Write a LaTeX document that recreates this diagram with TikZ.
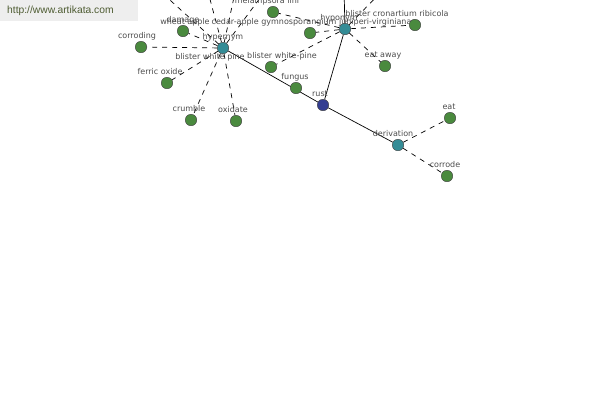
\documentclass[tikz,border=0pt]{standalone}
\usepackage{fontspec}
\setmainfont{DejaVu Sans}
\newfontfamily\wmfont{Liberation Sans}
\usetikzlibrary{backgrounds}
\definecolor{wordgreen}{RGB}{74,138,62}
\definecolor{hubteal}{RGB}{52,140,150}
\definecolor{headblue}{RGB}{52,62,145}
\definecolor{wmgray}{RGB}{238,238,238}
\definecolor{wmgreen}{RGB}{78,92,50}

\begin{document}
\begin{tikzpicture}
  [x=1pt, y=-1pt,
  word/.style={circle, minimum size=11.5pt, inner sep=0pt, draw=black!75, fill=wordgreen},
  hub/.style={word, fill=hubteal},
  head/.style={word, fill=headblue},
  lbl/.style={font=\fontsize{8}{9}\selectfont, text=black!70, inner sep=0pt, text height=6pt, text depth=1.5pt},
  link/.style={line width=0.7pt},
  rel/.style={link, dash pattern=on 5pt off 5pt},
  every label/.style={lbl}, label distance=0.5pt]
  \useasboundingbox (0,0) rectangle (600,400);
  \clip (0,0) rectangle (600,400);
  % watermark
  \node (wmbox) [fill=wmgray, minimum width=138pt, minimum height=21pt, inner sep=0pt, anchor=north west] at (0,0) {};
  \node (wm) [font=\wmfont\fontsize{10.3}{12}\selectfont, text=wmgreen, inner sep=0pt, anchor=west] at (7,11) {http://www.artikata.com};
  % centre and relation hubs
  \node (rust)  [head, label={[xshift=-3pt]above:rust}] at (323,105) {};
  \node (hyper) [hub, label={above:hypernym}] at (223,48) {};
  \node (hypo)  [hub, label={[xshift=-6pt]above:hyponym}] at (345,29) {};
  \node (deriv) [hub, label={[xshift=-5pt]above:derivation}] at (398,145) {};
  % words
  \node (corroding)  [word, label={[xshift=-4pt]above:corroding}] at (141,47) {};
  \node (damage)     [word, label={above:damage}] at (183,31) {};
  \node (ferric)     [word, label={[xshift=-7pt]above:ferric oxide}] at (167,83) {};
  \node (crumble)    [word, label={[xshift=-2pt]above:crumble}] at (191,120) {};
  \node (oxidate)    [word, label={[xshift=-3pt]above:oxidate}] at (236,121) {};
  \node (melampsora) [word, label={[xshift=-6pt]above:melampsora lini}] at (273,12) {};
  \node (gymno)      [word, label={[xshift=4pt]above:cedar-apple gymnosporangium juniperi-virginianae}] at (310,33) {};
  \node (whitepine)  [word, label={[xshift=11pt]above:blister white-pine}] at (271,67) {};
  \node (fungus)     [word, label={[xshift=-1pt]above:fungus}] at (296,88) {};
  \node (cronartium) [word, label={[xshift=-18pt]above:blister cronartium ribicola}] at (415,25) {};
  \node (eataway)    [word, label={[xshift=-2pt]above:eat away}] at (385,66) {};
  \node (eat)        [word, label={[xshift=-1pt]above:eat}] at (450,118) {};
  \node (corrode)    [word, label={[xshift=-2pt]above:corrode}] at (447,176) {};
  \node (wheatapple) [lbl] at (185,22) {wheat apple};
  \node (whitepine2) [lbl] at (210,57) {blister white pine};
  % ends of links that run off the top
  \coordinate (up1) at (150,-18);
  \coordinate (up2) at (207,-12);
  \coordinate (up3) at (236,-12);
  \coordinate (up4) at (266,-10);
  \coordinate (up5) at (344,-12);
  \coordinate (up6) at (385,-12);
  \begin{scope}[on background layer]
    \draw [link] (hyper) -- (rust);
    \draw [link] (hypo) -- (rust);
    \draw [link] (rust) -- (deriv);
    \foreach \w in {corroding,damage,ferric,crumble,oxidate,up1,up2,up3,up4}
      \draw [rel] (hyper) -- (\w);
    \foreach \w in {melampsora,gymno,whitepine,cronartium,eataway,up6}
      \draw [rel] (hypo) -- (\w);
    \draw [link] (hypo) -- (up5);
    \draw [rel] (deriv) -- (eat);
    \draw [rel] (deriv) -- (corrode);
  \end{scope}
\end{tikzpicture}
\end{document}
